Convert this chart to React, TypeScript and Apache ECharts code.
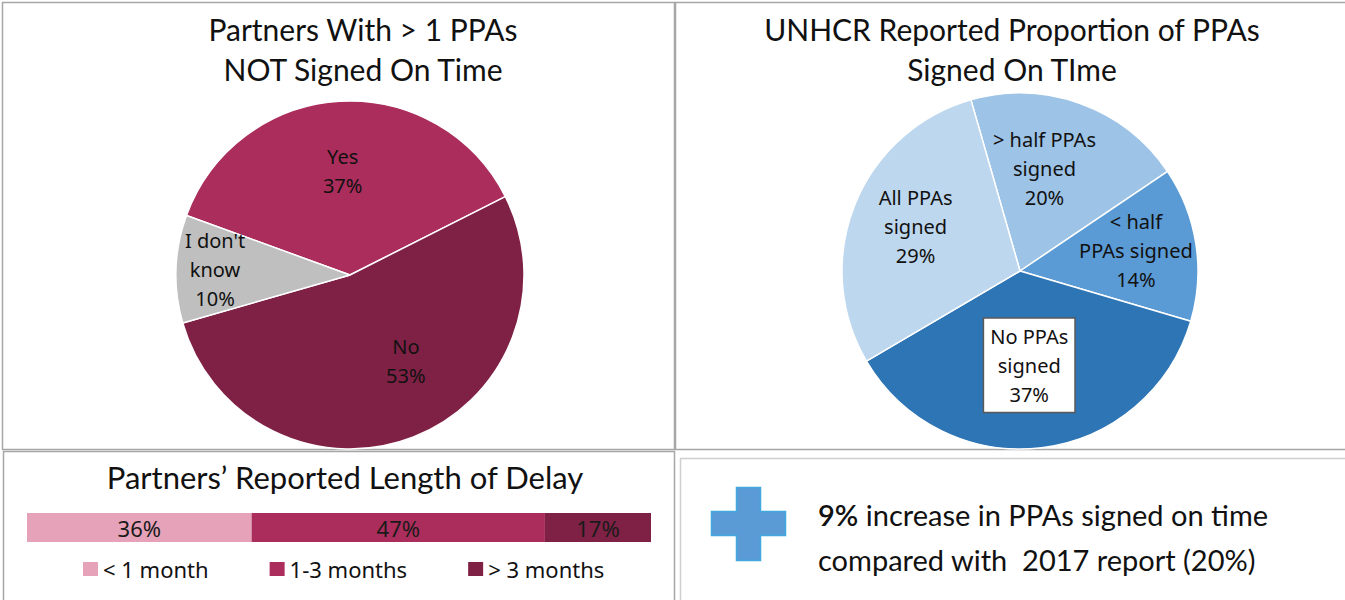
import React, { useEffect, useRef } from "react";
import * as echarts from "echarts";

const partnerCategories = ["Yes", "No", "I don't know"];
const partnerValues = [37, 53, 10];
const partnerLabels = ["Yes", "No", "I don't\nknow"];

const unhcrCategories = ["> half PPAs signed", "< half PPAs signed", "No PPAs signed", "All PPAs signed"];
const unhcrValues = [20, 14, 37, 29];
const unhcrLabels = ["> half PPAs\nsigned", "< half\nPPAs signed", "No PPAs\nsigned", "All PPAs\nsigned"];

const delayCategories = ["< 1 month", "1-3 months", "> 3 months"];
const delayValues = [36, 47, 17];

const partnerColors = ["#AB2D5B", "#7F2145", "#BFBFBF"];
const unhcrColors = ["#9DC3E6", "#5B9BD5", "#2E75B6", "#BDD7EE"];
const delayColors = ["#E6A2B8", "#AB2D5B", "#7F2145"];

const partnerLabelShift = [
  [-2, -14],
  [23, 2],
  [-45, -2],
];
const unhcrLabelShift = [
  [-7, -16],
  [25, -6],
  [-2, 3],
  [-19, -10],
];

const titleFont = "Lato, 'Open Sans', sans-serif";
const labelFont = "'Noto Sans', 'Open Sans', sans-serif";

export default function App() {
  const ref = useRef<HTMLDivElement>(null);
  useEffect(() => {
    if (!ref.current) return;
    const chart = echarts.init(ref.current, null, { renderer: "svg" });
    const border = "#a6a6a6";
    const option: any = {
      animation: false,
      backgroundColor: "#ffffff",
      graphic: [
        { type: "rect", z: -10, shape: { x: 2.5, y: 2.5, width: 672, height: 447 }, style: { fill: "none", stroke: border, lineWidth: 1.5 } },
        { type: "rect", z: -10, shape: { x: 675.5, y: 2.5, width: 680, height: 447 }, style: { fill: "none", stroke: border, lineWidth: 1.5 } },
        { type: "rect", z: -10, shape: { x: 3.5, y: 451.5, width: 671, height: 160 }, style: { fill: "none", stroke: border, lineWidth: 1.5 } },
        { type: "rect", z: -10, shape: { x: 680.5, y: 458.5, width: 680, height: 160 }, style: { fill: "none", stroke: "#cfcfcf", lineWidth: 1.5 } },
        {
          type: "text", x: 363, y: 9,
          style: { text: "Partners With > 1 PPAs\nNOT Signed On Time", align: "center", verticalAlign: "top", fontSize: 30, lineHeight: 40, fontFamily: titleFont, fill: "#111" },
        },
        {
          type: "text", x: 1012, y: 9,
          style: { text: "UNHCR Reported Proportion of PPAs\nSigned On TIme", align: "center", verticalAlign: "top", fontSize: 30, lineHeight: 40, fontFamily: titleFont, fill: "#111" },
        },
        {
          type: "text", x: 345, y: 457,
          style: { text: "Partners’ Reported Length of Delay", align: "center", verticalAlign: "top", fontSize: 31, lineHeight: 40, fontFamily: titleFont, fill: "#111" },
        },
        {
          type: "polygon",
          shape: {
            points: [
              [736.5, 487.5], [760.5, 487.5], [760.5, 511.5], [785.5, 511.5], [785.5, 535.5], [760.5, 535.5],
              [760.5, 560.5], [736.5, 560.5], [736.5, 535.5], [711.5, 535.5], [711.5, 511.5], [736.5, 511.5],
            ],
          },
          style: { fill: "#5B9BD5", stroke: "#41A8E0", lineWidth: 1.5 },
        },
        {
          type: "text", x: 818, y: 492,
          style: {
            text: "{b|9%} increase in PPAs signed on time\ncompared with  2017 report (20%)",
            align: "left", verticalAlign: "top", fontSize: 29, lineHeight: 45, fontFamily: titleFont, fill: "#111",
            rich: { b: { fontSize: 29, fontWeight: 600, fontFamily: titleFont, fill: "#111", lineHeight: 45 } },
          },
        },
      ],
      legend: {
        data: delayCategories,
        left: 83, top: 558, padding: 0,
        icon: "rect", itemWidth: 15, itemHeight: 14, itemGap: 61,
        selectedMode: false,
        textStyle: { fontSize: 22, color: "#111", fontFamily: labelFont },
      },
      grid: { left: 27, top: 513, width: 624, height: 29 },
      xAxis: { type: "value", min: 0, max: 100, show: false },
      yAxis: { type: "category", data: ["delay"], show: false },
      series: [
        {
          type: "pie", name: "partners",
          center: [350, 275], radius: 174, startAngle: 160, clockwise: true,
          data: partnerCategories.map((c, i) => ({ name: c, value: partnerValues[i], itemStyle: { color: partnerColors[i] } })),
          itemStyle: { borderColor: "#ffffff", borderWidth: 1.5 },
          label: {
            position: "inside",
            formatter: (p: any) => partnerLabels[p.dataIndex] + "\n" + p.value + "%",
            fontSize: 20, lineHeight: 29, color: "#111", fontFamily: labelFont,
          },
          labelLayout: (p: any) => ({ dx: partnerLabelShift[p.dataIndex][0], dy: partnerLabelShift[p.dataIndex][1] }),
          labelLine: { show: false },
          emphasis: { disabled: true },
        },
        {
          type: "pie", name: "unhcr",
          center: [1020, 271], radius: 178, startAngle: 106, clockwise: true,
          data: unhcrCategories.map((c, i) => ({
            name: c, value: unhcrValues[i], itemStyle: { color: unhcrColors[i] },
            label: i === 2
              ? { backgroundColor: "#ffffff", borderColor: "#595959", borderWidth: 1.5, padding: [4, 6, 2, 6] }
              : undefined,
          })),
          itemStyle: { borderColor: "#ffffff", borderWidth: 1.5 },
          label: {
            position: "inside",
            formatter: (p: any) => unhcrLabels[p.dataIndex] + "\n" + p.value + "%",
            fontSize: 20, lineHeight: 29, color: "#111", fontFamily: labelFont,
          },
          labelLayout: (p: any) => ({ dx: unhcrLabelShift[p.dataIndex][0], dy: unhcrLabelShift[p.dataIndex][1] }),
          labelLine: { show: false },
          emphasis: { disabled: true },
        },
        ...delayCategories.map((c, i) => ({
          type: "bar", name: c, stack: "delay", barWidth: 29,
          data: [delayValues[i]],
          itemStyle: { color: delayColors[i] },
          label: { show: true, position: "inside", formatter: "{c}%", fontSize: 22, color: "#1a1a1a", fontFamily: labelFont },
          emphasis: { disabled: true },
        })),
      ],
    };
    chart.setOption(option);
    return () => chart.dispose();
  }, []);
  return <div ref={ref} style={{ position: "fixed", left: 0, top: 0, width: 1345, height: 600 }} />;
}
